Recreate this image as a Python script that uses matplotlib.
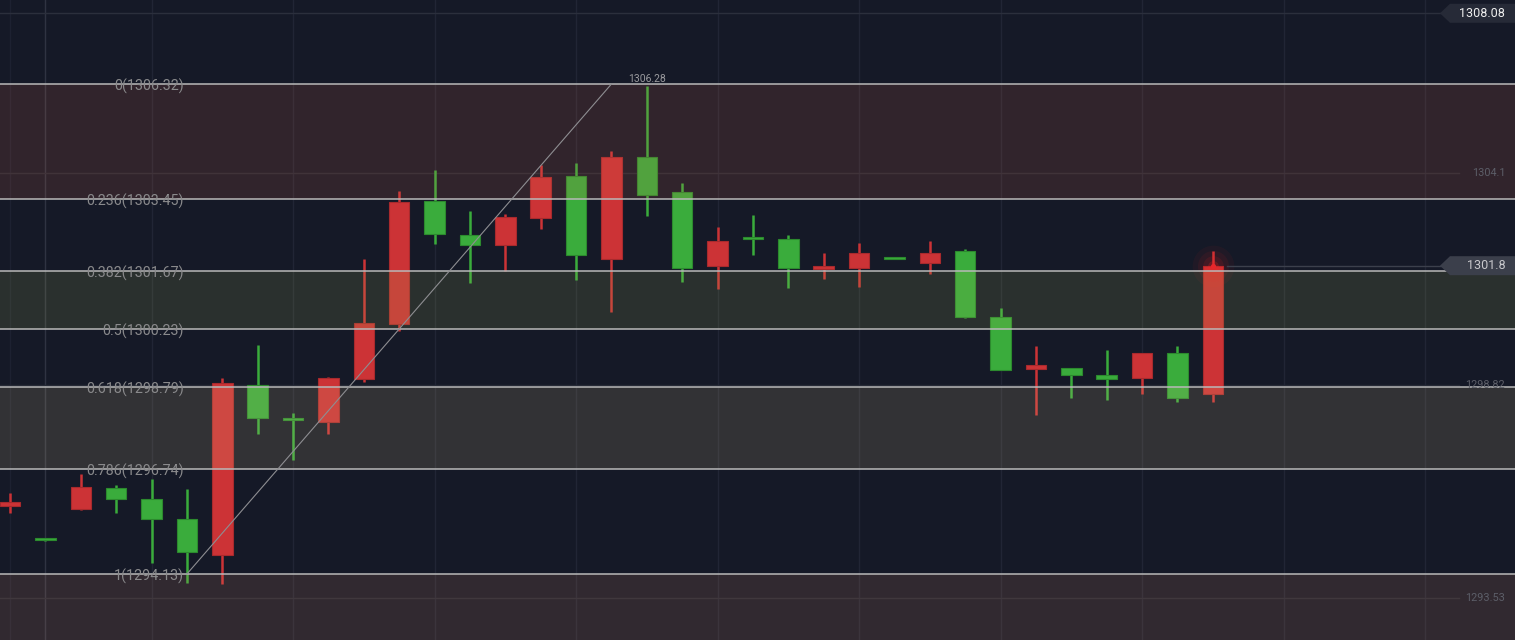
import numpy as np
import matplotlib.pyplot as plt
from matplotlib.patches import Rectangle, Polygon
from matplotlib.transforms import blended_transform_factory

plt.rcParams['font.family'] = ['Roboto', 'DejaVu Sans']

# OHLC 数据，红色=上涨，绿色=下跌
opens = [1295.82, 1295.01, 1295.75, 1296.28, 1296.00, 1295.50, 1294.60, 1298.82, 1298.00, 1297.91,
         1298.98, 1300.35, 1303.41, 1302.57, 1302.32, 1302.98, 1304.04, 1301.97, 1304.51, 1303.64,
         1301.79, 1302.50, 1302.47, 1301.72, 1301.74, 1302.00, 1301.86, 1302.16, 1300.53, 1299.23,
         1299.25, 1299.07, 1299.00, 1299.62, 1298.60]
highs = [1296.15, 1295.03, 1296.62, 1296.34, 1296.49, 1296.24, 1299.01, 1299.83, 1298.14, 1299.03,
         1301.97, 1303.66, 1304.18, 1303.16, 1303.09, 1304.31, 1304.35, 1304.65, 1306.28, 1303.86,
         1302.76, 1303.06, 1302.56, 1302.12, 1302.36, 1302.01, 1302.41, 1302.22, 1300.75, 1299.80,
         1299.26, 1299.70, 1299.64, 1299.79, 1302.17]
lows = [1295.65, 1294.96, 1295.72, 1295.65, 1294.40, 1293.91, 1293.88, 1297.61, 1296.97, 1297.61,
        1298.91, 1300.18, 1302.34, 1301.38, 1301.67, 1302.71, 1301.44, 1300.65, 1303.04, 1301.40,
        1301.23, 1302.07, 1301.25, 1301.48, 1301.28, 1301.96, 1301.60, 1300.49, 1299.20, 1298.09,
        1298.51, 1298.46, 1298.61, 1298.42, 1298.41]
closes = [1295.92, 1294.98, 1296.29, 1296.00, 1295.50, 1294.68, 1298.87, 1298.01, 1297.96, 1299.01,
          1300.37, 1303.39, 1302.58, 1302.32, 1303.02, 1304.01, 1302.06, 1304.51, 1303.56, 1301.74,
          1302.42, 1302.46, 1301.74, 1301.78, 1302.12, 1301.97, 1302.12, 1300.52, 1299.21, 1299.32,
          1299.08, 1298.98, 1299.62, 1298.50, 1301.80]

# 斐波那契回撤
fib_levels = ['0', '0.236', '0.382', '0.5', '0.618', '0.786', '1']
fib_prices = [1306.32, 1303.45, 1301.67, 1300.23, 1298.79, 1296.74, 1294.13]
fib_start, fib_end = 5, 17
swing_high_label = 1306.28

# 右侧价格刻度
axis_prices = [1304.1, 1298.82, 1293.53]
top_price = 1308.08
last_price = 1301.8

BG = '#151927'
RED = '#cc3336'
GREEN = '#3aac3c'

fig = plt.figure(figsize=(15.15, 6.4), dpi=100)
fig.patch.set_facecolor(BG)
ax = fig.add_axes([0, 0, 1, 1])
ax.set_facecolor(BG)
for s in ax.spines.values():
    s.set_visible(False)
ax.set_xticks([])
ax.set_yticks([])
ax.set_xlim(-0.283, 42.54)
ax.set_ylim(1292.488, 1308.41)

xfrac = blended_transform_factory(ax.transAxes, ax.transData)

# 竖向网格
ax.axvline(0, color='#1d2131', lw=1, zorder=0)
ax.axvline(1, color='#2f3342', lw=1, zorder=0)
for gx in range(4, 43, 4):
    ax.axvline(gx, color='#212535', lw=1, zorder=0)

# 横向价格网格
ax.plot([0, 0.951], [top_price, top_price], transform=xfrac, color='#2b2f3c', lw=1, zorder=0)
for p in axis_prices:
    ax.plot([0, 0.963], [p, p], transform=xfrac, color='#262a36', lw=1, zorder=0)
    ax.text(0.9935, p, str(p), transform=xfrac, ha='right', va='center',
            fontsize=7.8, color='#5c5e68', zorder=6)

# K线
n = len(opens)
for i in range(n):
    o, h, l, c = opens[i], highs[i], lows[i], closes[i]
    up = c >= o
    col = RED if up else GREEN
    edge = '#a82a2d' if up else '#2c8a2e'
    ax.vlines(i, l, h, color=col, lw=1.8, zorder=2)
    bottom = min(o, c)
    height = max(abs(c - o), 0.05)
    ax.add_patch(Rectangle((i - 0.29, bottom), 0.58, height, facecolor=col,
                           edgecolor=edge, lw=0.8, zorder=2.5))

# 最新K线的光晕
for s, a in [(900, 0.05), (500, 0.07), (220, 0.1), (60, 0.2)]:
    ax.scatter([n - 1], [last_price], s=s, color='#ff2020', alpha=a, lw=0, zorder=3)
ax.scatter([n - 1], [last_price], s=14, color='#e8262b', lw=0, zorder=3.6)

# 斐波那契区域（半透明覆盖）
zones = [(0, 1, (214 / 255, 105 / 255, 79 / 255)),
         (2, 3, (168 / 255, 185 / 255, 92 / 255)),
         (4, 5, (221 / 255, 198 / 255, 139 / 255))]
for a_i, b_i, zc in zones:
    ax.axhspan(fib_prices[b_i], fib_prices[a_i], color=zc, alpha=0.15, lw=0, zorder=3)
ax.axhspan(1292.488, fib_prices[-1], color=(214 / 255, 138 / 255, 106 / 255), alpha=0.15, lw=0, zorder=3)

for lvl, p in zip(fib_levels, fib_prices):
    ax.axhline(p, color='#b9b9b9', lw=1.1, zorder=4)
    ax.text(0.1215, p - 0.06, f'{lvl}({p:.2f})', transform=xfrac, ha='right', va='center',
            fontsize=10.3, color='#8a8a8c', zorder=5)

# 趋势线
ax.plot([fib_start, fib_end], [fib_prices[-1], fib_prices[0]], color='#8e8e92', lw=0.8, zorder=4)
ax.text(18, swing_high_label + 0.03, f'{swing_high_label:.2f}', ha='center', va='bottom',
        fontsize=7.5, color='#9a9a9e', zorder=5)

# 当前价格线
ax.plot([n - 0.6, 42.54], [last_price, last_price], color='#3c404c', lw=1, zorder=3.5)


def price_tag(price, face, tcolor):
    ppx = 1 / 40.197
    h = 9.5 * ppx
    x0, x1, x2 = 1440 / 1515, 1450 / 1515, 1.0
    pts = [(x0, price), (x1, price + h), (x2, price + h), (x2, price - h), (x1, price - h)]
    ax.add_patch(Polygon(pts, closed=True, transform=xfrac, facecolor=face, lw=0, zorder=6))
    ax.text(0.9935, price, str(price), transform=xfrac, ha='right', va='center',
            fontsize=9, color=tcolor, zorder=7)


price_tag(top_price, '#262a37', '#eeeeee')
price_tag(last_price, '#3b3f4b', '#c8c8cc')

plt.savefig('out.png', dpi=100, facecolor=BG)
